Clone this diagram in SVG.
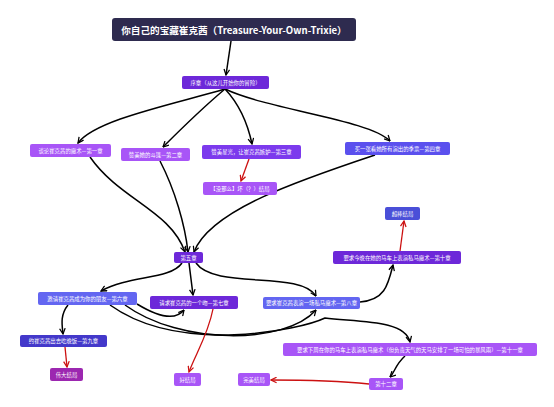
<svg xmlns="http://www.w3.org/2000/svg" width="554" height="407" viewBox="0 0 554 407">
<defs>
<marker id="ab" viewBox="0 0 10 10" refX="9" refY="5" markerWidth="7" markerHeight="7" markerUnits="userSpaceOnUse" orient="auto"><path d="M1,1 L9,5 L1,9" fill="none" stroke="#000" stroke-width="1.8"/></marker>
<marker id="ar" viewBox="0 0 10 10" refX="9" refY="5" markerWidth="7" markerHeight="7" markerUnits="userSpaceOnUse" orient="auto"><path d="M1,1 L9,5 L1,9" fill="none" stroke="#cc1111" stroke-width="1.8"/></marker>
<style>
.t{font-family:"Noto Sans CJK SC","Liberation Sans",sans-serif;fill:#fff;font-size:5.4px;text-anchor:middle;dominant-baseline:central}
.tt{font-family:"Noto Sans CJK SC","Liberation Sans",sans-serif;fill:#fff;font-size:9.6px;font-weight:bold;text-anchor:middle;dominant-baseline:central}
.b{fill:none;stroke:#000;stroke-width:1.5;marker-end:url(#ab)}
.r{fill:none;stroke:#cc1111;stroke-width:1.3;marker-end:url(#ar)}
.p1{fill:#6d28d9}.p2{fill:#a855f7}.p3{fill:#7c3aed}.i1{fill:#5b50ee}.i2{fill:#6366f1}.i3{fill:#4338ca}.m1{fill:#9c27b0}
</style>
</defs>
<rect width="554" height="407" fill="#fff"/>
<g id="connectors">
<path class="b" d="M231,41 L226,75"/>
<path class="b" d="M225,89 C170,105 95,120 78,143"/>
<path class="b" d="M225,89 C200,110 180,130 163,147"/>
<path class="b" d="M225,89 C240,105 248,125 252,144"/>
<path class="b" d="M225,89 C270,110 370,120 390,141"/>
<path class="r" d="M249,159 L241,181"/>
<path class="b" d="M90,157 C120,200 170,210 185,252"/>
<path class="b" d="M160,161 C175,190 185,225 188,252"/>
<path class="b" d="M375,155 C300,180 210,210 194,252"/>
<path class="b" d="M182,263 C170,280 130,275 101,291"/>
<path class="b" d="M189,263 L193,295"/>
<path class="b" d="M196,263 C215,290 300,270 316,296"/>
<path class="b" d="M68,305 C60,315 62,325 63,334"/>
<path class="b" d="M137,304 C160,318 176,320 184,310"/>
<path class="b" d="M125,305 C180,345 285,345 316,310"/>
<path class="b" d="M110,305 C180,355 300,330 325,318 C360,322 405,320 410,342"/>
<path class="b" d="M360,302 C385,300 388,285 393,265"/>
<path class="r" d="M213,309 C208,335 195,355 189,372"/>
<path class="r" d="M65,347 L67,367"/>
<path class="r" d="M400,251 L404,221"/>
<path class="b" d="M405,356 C395,365 395,372 390,377"/>
<path class="r" d="M369,384 C330,380 300,380 271,380"/>
</g>
<g id="title"><rect x="112" y="18" width="244" height="23" rx="3" fill="#2e2b4f"/><text class="tt" x="234" y="29.5">你自己的宝藏崔克茜（Treasure-Your-Own-Trixie）</text></g>
<g id="prologue"><rect class="p1" x="182" y="76" width="87" height="13" rx="2"/><text class="t" x="225.5" y="82.5">序章（从这儿开始你的冒险）</text></g>
<g id="ch1"><rect class="p2" x="30" y="144" width="81" height="13" rx="2"/><text class="t" x="70.5" y="150.5">谈论崔克茜的魔术—第一章</text></g>
<g id="ch2"><rect class="p2" x="121" y="148" width="69" height="13" rx="2"/><text class="t" x="155.5" y="154.5">赞美她的斗篷—第二章</text></g>
<g id="ch3"><rect class="p3" x="202" y="145" width="99" height="14" rx="2"/><text class="t" x="251.5" y="152">赞美星光，让崔克茜嫉妒—第三章</text></g>
<g id="ch4"><rect class="i1" x="345" y="142" width="105" height="13" rx="2"/><text class="t" x="397.5" y="148.5">买一张看她所有演出的季票—第四章</text></g>
<g id="badEnd"><rect class="p2" x="203" y="182" width="74" height="13" rx="2"/><text class="t" x="240" y="188.5">【没那么】坏（？）结局</text></g>
<g id="awesomeEnd"><rect fill="#4a4fd8" x="385" y="207" width="35" height="13" rx="2"/><text class="t" x="402.5" y="213.5">超棒结局</text></g>
<g id="ch10"><rect class="p1" x="333" y="251" width="128" height="13" rx="2"/><text class="t" x="397" y="257.5">要求今晚在她的马车上表演私马魔术—第十章</text></g>
<g id="ch5"><rect class="p1" x="174" y="252" width="29" height="11" rx="2"/><text class="t" x="188.5" y="257.5">第五章</text></g>
<g id="ch6"><rect class="i2" x="38" y="292" width="99" height="13" rx="2"/><text class="t" x="87.5" y="298.5">邀请崔克茜成为你的朋友—第六章</text></g>
<g id="ch7"><rect class="p1" x="150" y="296" width="88" height="13" rx="2"/><text class="t" x="194" y="302.5">请求崔克茜的一个吻—第七章</text></g>
<g id="ch8"><rect class="i2" x="263" y="297" width="97" height="12" rx="2"/><text class="t" x="311.5" y="303">要求崔克茜表演一场私马魔术—第八章</text></g>
<g id="ch9"><rect class="i3" x="20" y="335" width="87" height="12" rx="2"/><text class="t" x="63.5" y="341">约崔克茜出去吃晚饭—第九章</text></g>
<g id="greatEnd"><rect class="m1" x="50" y="368" width="33" height="13" rx="2"/><text class="t" x="66.5" y="374.5">伟大结局</text></g>
<g id="ch11"><rect class="p2" x="283" y="343" width="254" height="13" rx="2"/><text class="t" x="410" y="349.5">要求下周在你的马车上表演私马魔术（但负责天气的天马安排了一场可怕的暴风雨）—第十一章</text></g>
<g id="ch12"><rect class="p2" x="369" y="378" width="34" height="12" rx="2"/><text class="t" x="386" y="384">第十二章</text></g>
<g id="perfectEnd"><rect class="p2" x="238" y="373" width="32" height="13" rx="2"/><text class="t" x="254" y="379.5">完美结局</text></g>
<g id="goodEnd"><rect class="p2" x="174" y="373" width="27" height="13" rx="2"/><text class="t" x="187.5" y="379.5">好结局</text></g>
</svg>
